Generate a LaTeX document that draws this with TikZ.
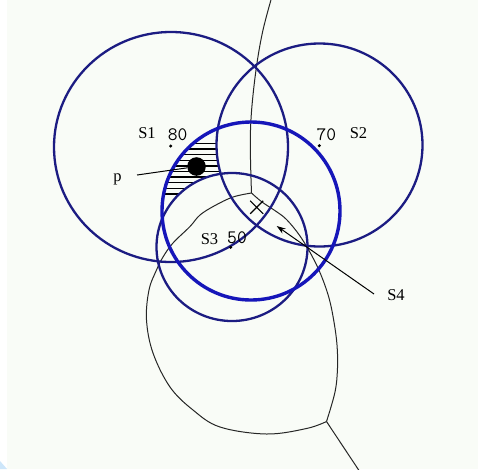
\documentclass[tikz,border=0pt]{standalone}
\usepackage{fontspec}
\setmainfont{Liberation Serif}
\usetikzlibrary{arrows.meta,shapes.misc}
\definecolor{navy}{RGB}{28,28,130}
\definecolor{brightblue}{RGB}{22,22,185}
\definecolor{bgcol}{RGB}{249,252,247}
\definecolor{cornerblue}{RGB}{205,230,250}
\begin{document}
\begin{tikzpicture}[x=1pt,y=-1pt,
  site/.style={draw=navy,line width=2.3pt},
  bigsite/.style={draw=brightblue,line width=3.4pt},
  bisector/.style={draw=black!85,line width=1pt},
  lbl/.style={inner sep=0pt,anchor=base,font=\fontsize{16.5}{19}\selectfont},
  wlbl/.style={inner sep=0pt,anchor=base,font=\ttfamily\fontsize{19}{21}\selectfont},
  sdot/.style={circle,fill=black,inner sep=0pt,minimum size=3.4pt},
  hatchline/.style={draw=black,line width=1.4pt},
]
\useasboundingbox (0,0) rectangle (478,469);
\fill[bgcol] (0,0) rectangle (478,469);
\fill[white] (0,0) rectangle (7,469);
\fill[cornerblue] (0,461) -- (7,469) -- (0,469) -- cycle;

% hatched region: inside S4, outside S2 and S3
\begin{scope}
  \clip (251,211) circle [radius=89pt];
  \begin{scope}[even odd rule]
    \clip (0,0) rectangle (478,469) (319.5,145) ellipse [x radius=103pt,y radius=101.5pt];
    \begin{scope}[even odd rule]
      \clip (0,0) rectangle (478,469) (232,247) ellipse [x radius=75.5pt,y radius=74pt];
      \foreach \k in {0,...,9}
        \draw[hatchline] (140,{143.5+5.6*\k}) -- (240,{143.5+5.6*\k});
    \end{scope}
  \end{scope}
\end{scope}

% bisector curves
\coordinate (V) at (251.5,193);
\coordinate (W) at (326.5,421.5);
\coordinate (topend) at (271.5,-2);
\coordinate (botend) at (360,472);
\draw[bisector] plot[smooth,tension=0.6] coordinates {(271.5,-2) (263,30) (257,63) (252.5,100) (250.5,130) (250.5,160) (251.5,193)};
\draw[bisector] plot[smooth,tension=0.6] coordinates {(251.5,193) (233,197) (215,205.5) (200,215) (190,226.5) (173,243) (163,257) (156.5,270) (149,290) (146.5,320) (153,353) (170,387) (193,410) (220,427) (266.5,434) (306.5,428.5) (326.5,421.5)};
\draw[bisector] plot[smooth,tension=0.6] coordinates {(251.5,193) (262,202) (277,212) (287,220) (300,236) (312,256) (321,275) (329,298) (334,322) (337,345) (337.5,368) (335,392) (326.5,421.5)};
\draw[bisector] (W) -- (botend);

% circles
\draw[site] (171,147) ellipse [x radius=117pt,y radius=115pt];
\draw[site] (319.5,145) ellipse [x radius=103pt,y radius=101.5pt];
\draw[site] (232,247) ellipse [x radius=75.5pt,y radius=74pt];
\draw[bigsite] (251,211) circle [radius=89pt];

% site points
\node[sdot] (c1) at (170.7,146) {};
\node[sdot] (c2) at (319.3,145.7) {};
\node[sdot] (c3) at (230.7,247.3) {};

% labels
\node[lbl] (s1) at (147,138.5) {S1};
\node[wlbl] (w1) at (177.7,140.7) {80};
\node[lbl] (s2) at (358.5,138.5) {S2};
\node[wlbl] (w2) at (326.3,140.7) {70};
\node[lbl] (s3) at (209.5,244.5) {S3};
\node[wlbl] (w3) at (237,243.3) {50};
\node[lbl] (s4) at (396,300.3) {S4};
\node[lbl] (p) at (117.5,181) {p};

% point p
\node[circle,fill=black,minimum size=18.6pt,inner sep=0pt] (pdot) at (196.5,166.5) {};
\coordinate (pl) at (137,175);
\draw[line width=1pt] (pl) -- (pdot);

% S4 marker and arrow
\node[cross out,draw=black,line width=1.1pt,minimum size=12pt,inner sep=0pt] (x4) at (256.7,207.3) {};
\coordinate (arrtail) at (374,294);
\coordinate (arrtip) at (276.7,226);
\draw[line width=1pt,-{Stealth[length=9pt,width=6pt]}] (arrtail) -- (arrtip);
\end{tikzpicture}
\end{document}
